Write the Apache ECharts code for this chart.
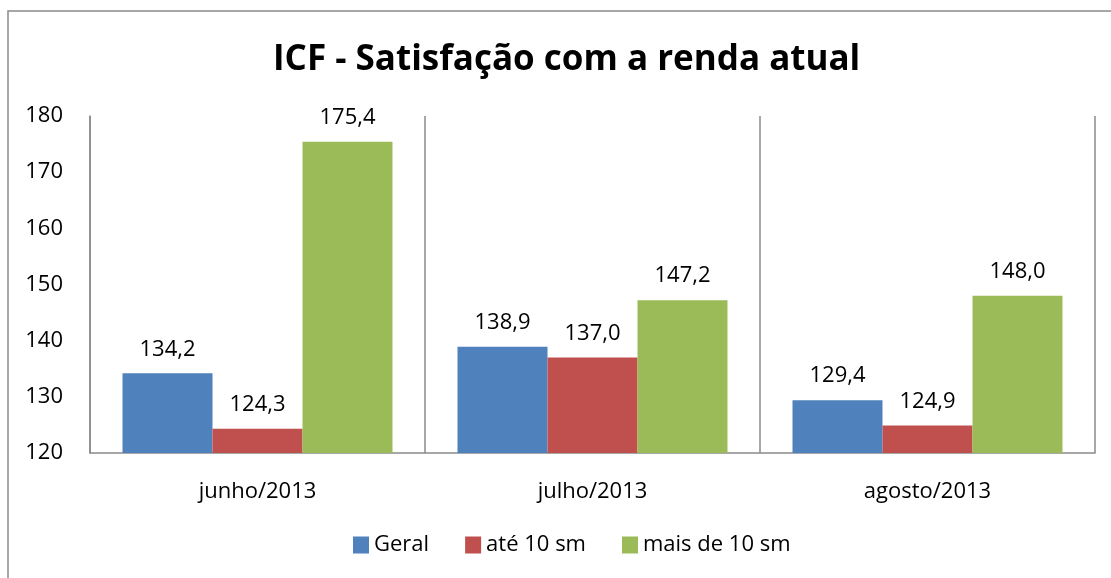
<!DOCTYPE html>
<html>
<head>
<meta charset="utf-8">
<script src="https://cdn.jsdelivr.net/npm/echarts@6/dist/echarts.min.js"></script>
<style>
html,body{margin:0;padding:0;background:#fff;}
#c{width:1111px;height:578px;}
</style>
</head>
<body>
<div id="c"></div>
<script>
const categories = ['junho/2013', 'julho/2013', 'agosto/2013'];
const geral = [134.2, 138.9, 129.4];
const ate10 = [124.3, 137.0, 124.9];
const mais10 = [175.4, 147.2, 148.0];
const seriesNames = ['Geral', 'até 10 sm', 'mais de 10 sm'];
const colors = ['#4F81BD', '#C0504D', '#9BBB59'];

const FONT = '"Open Sans", Lato, sans-serif';
const FS = 22;
const fmt = v => v.toFixed(1).replace('.', ',');

const chart = echarts.init(document.getElementById('c'));
const mk = (name, data, color) => ({
  name, type: 'bar', data, barGap: '0%', barCategoryGap: '19.4%',
  itemStyle: { color },
  label: { show: true, position: 'top', distance: 13, color: '#000',
    fontFamily: FONT, fontSize: FS, formatter: p => fmt(p.value) }
});
chart.setOption({
  backgroundColor: '#fff',
  animation: false,
  graphic: [{ type: 'rect', shape: { x: 8, y: 11, width: 1300, height: 800 },
    style: { fill: 'none', stroke: '#8a8a8a', lineWidth: 1.5 }, z: -1 }],
  title: { text: 'ICF - Satisfação com a renda atual', left: 268, top: 38,
    textStyle: { fontFamily: FONT, fontSize: 35, fontWeight: 'bold', color: '#000' } },
  legend: { bottom: 17, left: 348, itemWidth: 16, itemHeight: 17, itemGap: 36,
    icon: 'rect', textStyle: { fontFamily: FONT, fontSize: FS, color: '#000' },
    data: seriesNames },
  grid: { left: 90, right: 16, top: 116, bottom: 125, containLabel: false },
  xAxis: { type: 'category', data: categories,
    axisLine: { lineStyle: { color: '#8a8a8a', width: 1.5 } },
    axisTick: { show: false },
    splitLine: { show: true, lineStyle: { color: '#8a8a8a', width: 1.5 } },
    axisLabel: { fontFamily: FONT, fontSize: FS, color: '#000', margin: 28 } },
  yAxis: { type: 'value', min: 120, max: 180, interval: 10,
    axisLine: { show: true, lineStyle: { color: '#8a8a8a', width: 1.5 } },
    axisTick: { show: false }, splitLine: { show: false },
    axisLabel: { fontFamily: FONT, fontSize: FS, color: '#000', margin: 27 } },
  series: [mk(seriesNames[0], geral, colors[0]), mk(seriesNames[1], ate10, colors[1]), mk(seriesNames[2], mais10, colors[2])]
});
</script>
</body>
</html>
